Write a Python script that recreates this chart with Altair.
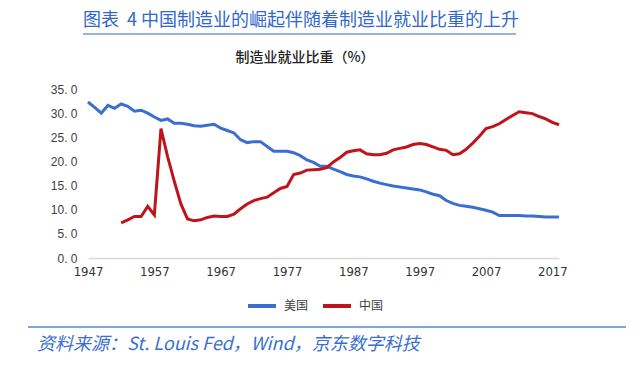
import altair as alt
import pandas as pd

# ---- data ----
us_years = list(range(1947, 2019))
us_values = [32.3, 31.2, 30.0, 31.6, 31.0, 31.9, 31.4, 30.4, 30.6, 30.0,
             29.2, 28.5, 28.8, 27.9, 27.9, 27.7, 27.4, 27.3, 27.5, 27.7,
             26.9, 26.4, 25.9, 24.5, 23.9, 24.1, 24.1, 23.1, 22.1, 22.1,
             22.1, 21.8, 21.2, 20.3, 19.8, 19.0, 19.0, 18.4, 17.9, 17.3,
             17.0, 16.8, 16.4, 15.9, 15.5, 15.2, 14.9, 14.7, 14.5, 14.3,
             14.1, 13.7, 13.2, 12.9, 11.9, 11.3, 10.9, 10.7, 10.5, 10.2,
             9.9, 9.5, 8.8, 8.8, 8.8, 8.8, 8.7, 8.7, 8.6, 8.5,
             8.5, 8.5]

cn_years = list(range(1952, 2019))
cn_values = [7.3, 7.9, 8.6, 8.6, 10.7, 8.9, 26.8, 21.0, 15.9, 11.2,
             8.1, 7.7, 7.9, 8.4, 8.7, 8.6, 8.6, 9.1, 10.2, 11.2,
             11.9, 12.3, 12.6, 13.5, 14.4, 14.8, 17.3, 17.6, 18.2, 18.3,
             18.4, 18.7, 19.9, 20.8, 21.9, 22.2, 22.4, 21.6, 21.4, 21.4,
             21.7, 22.4, 22.7, 23.0, 23.5, 23.7, 23.5, 23.0, 22.5, 22.3,
             21.4, 21.6, 22.5, 23.8, 25.2, 26.8, 27.2, 27.8, 28.7, 29.5,
             30.3, 30.1, 29.9, 29.3, 28.8, 28.1, 27.6]

series_names = ["美国", "中国"]
series_colors = ["#3A6FD1", "#C0141C"]
x_ticks = [1947, 1957, 1967, 1977, 1987, 1997, 2007, 2017]
y_ticks = [0, 5, 10, 15, 20, 25, 30, 35]

title_text = "图表\u00a0\u00a04 中国制造业的崛起伴随着制造业就业比重的上升"
subtitle_text = "制造业就业比重（%）"
source_text = "资料来源：St. Louis Fed，Wind，京东数字科技"

df = pd.concat([
    pd.DataFrame({"year": us_years, "value": us_values, "country": series_names[0]}),
    pd.DataFrame({"year": cn_years, "value": cn_values, "country": series_names[1]}),
])

W, H = 471, 169
CJK = "Noto Sans CJK SC"

lines = alt.Chart(df).mark_line(strokeWidth=3).encode(
    x=alt.X("year:Q",
            scale=alt.Scale(domain=[1947, 2018], nice=False, zero=False),
            axis=alt.Axis(values=x_ticks, format="d", title=None, ticks=False,
                          grid=False, domainColor="#d9d9d9", domainWidth=1.5,
                          labelFlush=False, labelOverlap=False,
                          labelFont="Liberation Sans Narrow, DejaVu Sans Condensed, sans-serif",
                          labelFontSize=13, labelColor="#333333", labelPadding=7)),
    y=alt.Y("value:Q",
            scale=alt.Scale(domain=[0, 35], nice=False),
            axis=alt.Axis(values=y_ticks, title=None, ticks=False, grid=False,
                          domain=False,
                          labelExpr="replace(format(datum.value, '.1f'), '.', '. ')",
                          labelFont="Liberation Sans, sans-serif", labelFontSize=12,
                          labelColor="#404040", labelPadding=11)),
    color=alt.Color("country:N",
                    scale=alt.Scale(domain=series_names, range=series_colors),
                    sort=series_names,
                    legend=alt.Legend(title=None, orient="none", direction="horizontal",
                                      legendX=158, legendY=201, symbolType="stroke",
                                      symbolSize=784, symbolStrokeWidth=4,
                                      labelFont=CJK, labelFontSize=12,
                                      labelColor="#404040", labelOffset=6,
                                      columnPadding=6, padding=0)),
)

title = alt.Chart(pd.DataFrame({"t": [title_text]})).mark_text(
    font=CJK, fontSize=18, color="#3068CC", align="left", baseline="middle"
).encode(text="t:N", x=alt.value(-5), y=alt.value(-68))

underline = alt.Chart(pd.DataFrame({"t": [0]})).mark_rule(
    color="#3068CC", strokeWidth=1
).encode(x=alt.value(-5), x2=alt.value(428), y=alt.value(-55))

subtitle = alt.Chart(pd.DataFrame({"t": [subtitle_text]})).mark_text(
    font=CJK, fontSize=14, fontWeight=500, color="#222222", align="center",
    baseline="middle"
).encode(text="t:N", x=alt.value(217), y=alt.value(-31))

footer_line = alt.Chart(pd.DataFrame({"t": [0]})).mark_rule(
    color="#7FA4E6", strokeWidth=2
).encode(x=alt.value(-60), x2=alt.value(538), y=alt.value(238))

footer = alt.Chart(pd.DataFrame({"t": [source_text]})).mark_text(
    font=CJK, fontSize=18, fontStyle="italic", color="#3A6FD1",
    align="left", baseline="middle"
).encode(text="t:N", x=alt.value(-51), y=alt.value(256))

chart = alt.layer(lines, title, underline, subtitle, footer_line, footer).properties(
    width=W, height=H,
    autosize=alt.AutoSizeParams(type="none"),
    padding={"left": 80, "top": 81, "right": 73, "bottom": 109},
).configure_view(stroke=None)

chart.save("out.html", embed_options={"renderer": "svg", "actions": False})
